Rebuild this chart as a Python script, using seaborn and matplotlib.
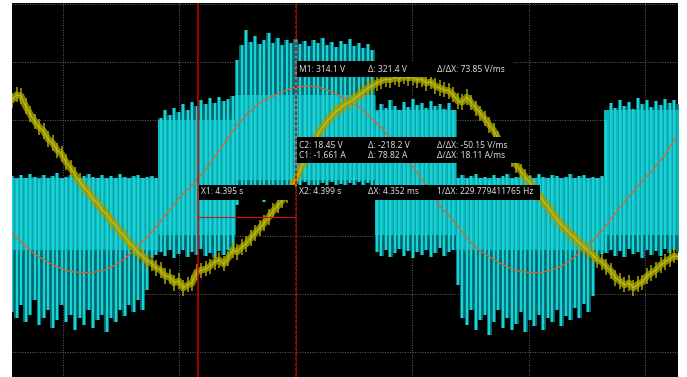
import numpy as np
import pandas as pd
import matplotlib
matplotlib.use("Agg")
import matplotlib.pyplot as plt
import seaborn as sns
from matplotlib.patches import Rectangle

# ---- acquisition settings ----
FAST_STEP_MS = 0.2        # sample spacing of the CH1 / CH2 records
SLOW_STEP_MS = 0.5        # sample spacing of the math trace M1
CH1_A_PER_DIV = 50.0
CH2_V_PER_DIV = 200.0
M1_V_PER_DIV = 200.0

# CH1 phase current (A), yellow trace
ch1_amps = [
    67.2, 71.6, 70.7, 62.1, 55.2, 49.1, 44.0, 40.5, 33.6, 30.2,
    24.1, 20.7, 13.8, 8.6, 2.6, -2.6, -8.6, -12.1, -18.1, -21.6,
    -27.6, -31.0, -37.1, -40.5, -46.6, -50.0, -56.0, -59.5, -64.7, -67.2,
    -71.6, -73.3, -77.6, -79.3, -84.5, -85.3, -90.5, -88.8, -94.8, -92.2,
    -90.5, -81.0, -79.5, -78.4, -75.9, -72.4, -70.7, -74.1, -69.0, -62.1,
    -63.8, -59.5, -56.9, -51.7, -47.4, -43.1, -38.8, -33.6, -28.4, -24.1,
    -19.0, -14.7, -8.6, -1.7, 6.9, 15.5, 23.3, 31.0, 37.9, 44.0,
    49.1, 53.4, 57.8, 60.3, 63.8, 65.5, 68.1, 71.6, 74.1, 77.6,
    79.3, 81.9, 83.6, 85.3, 84.5, 87.1, 85.3, 87.9, 86.2, 87.1,
    84.5, 85.3, 81.9, 82.8, 79.3, 77.6, 75.9, 75.0, 71.6, 66.4,
    65.5, 69.8, 64.7, 60.3, 56.0, 50.9, 45.7, 40.5, 33.6, 27.6,
    21.6, 16.4, 11.2, 6.0, 0.9, -4.3, -9.5, -14.7, -19.8, -25.0,
    -30.2, -35.3, -40.5, -44.0, -48.3, -51.7, -56.0, -59.5, -62.9, -66.4,
    -70.7, -72.4, -76.7, -80.2, -86.2, -88.8, -92.2, -90.5, -94.8, -91.4,
    -89.7, -84.5, -81.9, -79.3, -75.0, -72.4, -69.8, -67.2, -68.1,
]

# CH2 inverter output voltage: upper / lower excursion of each switching burst (V)
ch2_top_v = [
    # level 0 / -2
    7, -3, 10, 0, 14, 3, -7, 10, 0, 7, 17, -3, 3, 10, 0, -7, 7, 14, 3, 0,
    10, -3, 7, 0, 14, 3, -3, 7, 10, 0, 3, 7, 0,
    # level +1 / -1
    207, 234, 217, 241, 228, 255, 234, 262, 248, 269, 255, 276, 259, 279, 266, 272, 283,
    # level +2 / 0
    407, 459, 510, 469, 490, 462, 476, 500, 466, 483, 459, 476, 466, 479, 462, 472,
    455, 476, 466, 483, 459, 469, 452, 472, 462, 479, 455, 466, 448, 462, 441,
    # level +1 / -1
    228, 255, 241, 269, 248, 234, 262, 245, 272, 252, 259, 241, 266, 248, 255, 238, 259, 234,
    # level 0 / -2
    0, 10, -3, 7, 14, 0, 3, -7, 10, 0, 7, 14, -3, 3, 10, 0, 7, -3, 14, 3,
    0, 10, 7, -3, 3, 14, 0, 7, 10, -3, 3, 0, 7,
    # level +1 / -1
    200, 259, 241, 269, 248, 262, 238, 276, 255, 269, 245, 266, 252, 272, 259, 269, 255,
]
ch2_bottom_v = [
    -462, -483, -438, -497, -472, -421, -507, -483, -455, -517, -490, -438, -497, -472,
    -524, -483, -507, -455, -517, -490, -472, -531, -483, -497, -455, -476, -438, -462,
    -421, -455, -386, -276, -266,
    -255, -269, -248, -276, -262, -248, -272, -255, -266, -245, -269, -259, -276, -252,
    -266, -248, -262,
    -93, -59, -76, -41, -69, -28, -83, -48, -34, -62, -24, -52, -41, -21, -34, -14,
    -41, -24, -34, -17, -31, -14, -28, -21, -38, -17, -31, -14, -24, -17, -34,
    -255, -269, -248, -272, -259, -245, -269, -252, -276, -255, -266, -248, -272, -259,
    -241, -269, -255, -248,
    -369, -483, -507, -455, -524, -490, -472, -541, -497, -455, -517, -483, -524, -503,
    -462, -531, -490, -510, -472, -524, -483, -497, -455, -510, -476, -490, -448, -483,
    -434, -462, -407, -276, -262,
    -259, -248, -269, -252, -272, -245, -262, -255, -276, -248, -266, -252, -269, -245,
    -259, -248, -255,
]
# densest part of the switching band in each output-level segment (V)
seg_first_sample = [0, 33, 50, 81, 99, 132]
seg_band_hi_v = [0, 200, 286, 234, 0, 234]
seg_band_lo_v = [-248, -197, -7, -197, -248, -197]

# M1 = filtered fundamental of CH2 (V), orange trace
m1_volts = [
    -190, -228, -262, -286, -307, -321, -326, -326, -321, -303,
    -279, -245, -203, -159, -110, -62, -25, 18, 72, 128,
    183, 224, 259, 279, 297, 312, 316, 316, 303, 286,
    265, 241, 203, 166, 117, 69, 17, -34, -97, -138,
    -186, -234, -262, -286, -307, -321, -326, -326, -317, -300,
    -272, -238, -200, -152, -100, -55, -10, 31, 79, 145,
]

# cursor positions (ms from the left screen edge) and readouts
x1_ms = 8.26
dx_ms = 4.352
readout_m1 = ["M1: 314.1 V", "Δ: 321.4 V", "Δ/ΔX: 73.85 V/ms"]
readout_c2 = ["C2: 18.45 V", "Δ: -218.2 V", "Δ/ΔX: -50.15 V/ms"]
readout_c1 = ["C1: -1.661 A", "Δ: 78.82 A", "Δ/ΔX: 18.11 A/ms"]
readout_x1 = "X1: 4.395 s"
readout_x2 = ["X2: 4.399 s", "ΔX: 4.352 ms", "1/ΔX: 229.779411765 Hz"]

# ---- screen geometry ----
MS_PER_PX = 0.04441
DIV_PER_PX = 1.0 / 58.0
GRID_FIRST_MS = 2.265
GRID_STEP_MS = 5.169
CH1_NOISE_HALF_DIV = 0.13   # half height of the ripple drawn on the CH1 trace

sns.set_style("dark", {"axes.facecolor": "black"})
plt.rcParams["font.family"] = ["Noto Sans", "DejaVu Sans"]

fig = plt.figure(figsize=(6.87, 3.77), dpi=100, facecolor="white")
ax = fig.add_axes([12 / 687, 0, 666 / 687, 374 / 377])
ax.set_facecolor("black")
ax.set_xlim(0, 666 * MS_PER_PX)
ax.set_ylim(-199 * DIV_PER_PX, 175 * DIV_PER_PX)
ax.set_xticks([])
ax.set_yticks([])
for s in ax.spines.values():
    s.set_visible(False)

# graticule
grid_kw = dict(color="#5a5a5a", lw=0.75, ls=(0, (1, 1.4)), zorder=1)
ax.vlines(GRID_FIRST_MS + GRID_STEP_MS * np.arange(6), -4, 4, **grid_kw)
ax.hlines(np.arange(-3, 4), 0, 40, **grid_kw)

# CH2 switching waveform
t_fast = np.arange(len(ch2_top_v)) * FAST_STEP_MS
top = np.array(ch2_top_v) / CH2_V_PER_DIV
bot = np.array(ch2_bottom_v) / CH2_V_PER_DIV
lengths = np.diff(seg_first_sample + [len(ch2_top_v)])
band_hi = np.repeat(seg_band_hi_v, lengths) / CH2_V_PER_DIV
band_lo = np.repeat(seg_band_lo_v, lengths) / CH2_V_PER_DIV
ax.fill_between(t_fast, bot, top, step="mid", color="#077880", lw=0, alpha=0.85, zorder=2)
ax.fill_between(t_fast, band_lo, band_hi, step="mid", color="#0fb6bd", lw=0, zorder=3)
ax.vlines(t_fast, bot, top, color="#18d3d6", lw=1.7, zorder=4)
ax.vlines(t_fast + FAST_STEP_MS / 2, band_lo, band_hi, color="#0a9aa2", lw=0.5, zorder=4)

# M1 fundamental
t_slow = np.arange(len(m1_volts)) * SLOW_STEP_MS
df_m1 = pd.DataFrame({"t": t_slow, "div": np.array(m1_volts) / M1_V_PER_DIV})
sns.lineplot(data=df_m1, x="t", y="div", ax=ax, color="#d9642a", lw=0.9,
             estimator=None, legend=False, zorder=5)

# CH1 current: olive band with ripple ticks and a brighter core
c1_div = np.array(ch1_amps) / CH1_A_PER_DIV
df_c1 = pd.DataFrame({"t": t_fast, "div": c1_div})
sns.lineplot(data=df_c1, x="t", y="div", ax=ax, color="#a09c00", lw=4.8, alpha=0.85,
             estimator=None, legend=False, zorder=6)
ax.vlines(t_fast, c1_div - CH1_NOISE_HALF_DIV, c1_div + CH1_NOISE_HALF_DIV,
          color="#aaa600", lw=1.3, alpha=0.85, zorder=6)
sns.lineplot(data=df_c1, x="t", y="div", ax=ax, color="#d2d232", lw=1.0, alpha=0.6,
             estimator=None, legend=False, zorder=6)

# cursors
x2_ms = x1_ms + dx_ms
px = MS_PER_PX
ax.hlines(-39 * DIV_PER_PX, x1_ms, x2_ms, color="#d01010", lw=0.8, zorder=9)

# readout boxes
def box(t0, y_top_px, w_px, h_px):
    ax.add_patch(Rectangle((t0, (178 - y_top_px - h_px) * DIV_PER_PX), w_px * px,
                           h_px * DIV_PER_PX, facecolor="black", edgecolor="none",
                           zorder=8))

box(x2_ms + 1 * px, 61, 216, 16)
box(x2_ms + 1 * px, 137, 223, 26)
box(x1_ms + 1 * px, 185, 96, 15)
box(x2_ms + 1 * px, 185, 243, 15)

txt_kw = dict(color="#dcdcdc", fontsize=6.1, va="center", ha="left", zorder=9)
col_off = [3 * px, 72 * px, 141 * px]
for c, s in zip(col_off, readout_m1):
    ax.text(x2_ms + c, (178 - 69) * DIV_PER_PX, s, **txt_kw)
for c, s in zip(col_off, readout_c2):
    ax.text(x2_ms + c, (178 - 145) * DIV_PER_PX, s, **txt_kw)
for c, s in zip(col_off, readout_c1):
    ax.text(x2_ms + c, (178 - 156) * DIV_PER_PX, s, **txt_kw)
for c, s in zip(col_off, readout_x2):
    ax.text(x2_ms + c, (178 - 192) * DIV_PER_PX, s, **txt_kw)
ax.text(x1_ms + 3 * px, (178 - 192) * DIV_PER_PX, readout_x1, **txt_kw)

ax.axvline(x1_ms, color="#d00000", lw=1.1, zorder=10)
ax.axvline(x2_ms, color="#c00000", lw=1.1, ls=(0, (2.5, 1)), zorder=10)

fig.savefig("out.png", dpi=100, facecolor="white")
